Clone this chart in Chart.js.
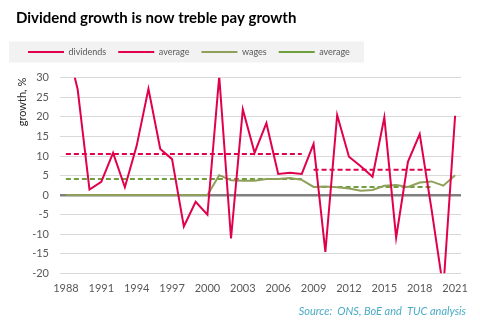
<!DOCTYPE html>
<html>
<head>
<meta charset="utf-8">
<script src="https://cdn.jsdelivr.net/npm/chart.js@4.4.1/dist/chart.umd.min.js"></script>
<style>
  html, body { margin: 0; padding: 0; background: #fff; }
  #grafica { display: block; }
</style>
</head>
<body>
<canvas id="grafica" width="480" height="329"></canvas>
<script>
// datos
const years = [1988, 1989, 1990, 1991, 1992, 1993, 1994, 1995, 1996, 1997, 1998, 1999, 2000,
  2001, 2002, 2003, 2004, 2005, 2006, 2007, 2008, 2009, 2010, 2011, 2012, 2013, 2014,
  2015, 2016, 2017, 2018, 2019, 2020, 2021];
const dividends = [39.5, 27, 1.4, 3.4, 10.8, 2.0, 12.6, 27.2, 11.8, 9.2, -8.0, -1.7, -5.0,
  30.4, -11.1, 21.9, 10.8, 18.4, 5.4, 5.7, 5.4, 13.1, -14.5, 20.5, 9.8, 7.4, 4.7,
  19.9, -10.9, 8.5, 15.6, -3.6, -24, 20.3];
const wages = [0, 0, 0, 0, 0, 0, 0, 0, 0, 0, 0, 0, 0,
  5.1, 3.8, 3.7, 3.7, 4.1, 4.1, 4.4, 3.9, 2.1, 2.2, 2.0, 1.7, 1.1, 1.3,
  2.4, 2.6, 2.1, 3.2, 3.5, 2.4, 5.1];
// medias por periodo: [primer año, último año, valor]
const dividendAverages = [[1988, 2008, 10.5], [2009, 2019, 6.5]];
const wageAverages = [[1988, 2008, 4.1], [2009, 2019, 2.1]];
const yTicks = { min: -20, max: 30, step: 5 };

const title = 'Dividend growth is now treble pay growth';
const sourceText = 'Source:  ONS, BoE and  TUC analysis';

const RED = '#e0004d';
const GREEN = '#8fa05a';
const GREEN_DASH = '#6f9e3c';

// convierte un periodo en serie con huecos
function tramo(p) {
    return years.map(y => (y >= p[0] && y <= p[1]) ? p[2] : null);
}

// fondo gris de la leyenda
const legendBg = {
    id: 'legendBg',
    beforeInit(chart) {
        const fitOrig = chart.legend.fit;
        chart.legend.fit = function () {
            fitOrig.bind(chart.legend)();
            this.height += 11.3;
        };
    },
    beforeDraw(chart) {
        const boxes = chart.legend.legendHitBoxes;
        if (!boxes || !boxes.length) return;
        const left = Math.min(...boxes.map(b => b.left)) - 19;
        const right = Math.max(...boxes.map(b => b.left + b.width)) + 14;
        const mid = boxes[0].top + boxes[0].height / 2;
        const ctx = chart.ctx;
        ctx.save();
        ctx.fillStyle = '#f2f2f2';
        ctx.fillRect(left, mid - 10.5, right - left, 21);
        ctx.restore();
    }
};

// nota de fuente abajo a la derecha
const sourceNote = {
    id: 'sourceNote',
    afterDraw(chart) {
        const ctx = chart.ctx;
        ctx.save();
        ctx.font = 'italic 11px Lato';
        ctx.fillStyle = '#4bacc6';
        ctx.textAlign = 'right';
        ctx.textBaseline = 'middle';
        ctx.fillText(sourceText, 466, 311);
        ctx.restore();
    }
};

const lineaBase = { fill: false, tension: 0, pointRadius: 0, pointHoverRadius: 0, borderWidth: 2 };

new Chart(document.getElementById('grafica'), {
    type: 'line',
    data: {
        labels: years,
        datasets: [
            { ...lineaBase, label: 'dividends', data: dividends, borderColor: RED },
            { ...lineaBase, label: 'average', data: tramo(dividendAverages[0]), borderColor: RED, borderDash: [5, 3] },
            { ...lineaBase, label: 'wages', data: wages, borderColor: GREEN },
            { ...lineaBase, label: 'average', data: tramo(wageAverages[0]), borderColor: GREEN_DASH, borderDash: [5, 3] },
            { ...lineaBase, label: 'average', data: tramo(dividendAverages[1]), borderColor: RED, borderDash: [5, 3] },
            { ...lineaBase, label: 'average', data: tramo(wageAverages[1]), borderColor: GREEN_DASH, borderDash: [5, 3] }
        ]
    },
    options: {
        responsive: false,
        animation: false,
        devicePixelRatio: 1,
        layout: { padding: { left: 16, right: 19, top: 0, bottom: 24.5 } },
        plugins: {
            title: {
                display: true,
                text: title,
                align: 'start',
                color: '#000',
                font: { family: 'Lato', size: 15, weight: 'bold' },
                padding: { top: 9.3, bottom: 8.2 }
            },
            legend: {
                position: 'top',
                align: 'start',
                labels: {
                    usePointStyle: true,
                    pointStyle: 'line',
                    pointStyleWidth: 36,
                    padding: 12,
                    color: '#595959',
                    font: { family: 'Lato', size: 9 },
                    filter: item => item.datasetIndex < 4
                }
            },
            tooltip: { enabled: false }
        },
        scales: {
            x: {
                offset: true,
                grid: { display: false, drawTicks: false },
                border: { display: false },
                ticks: {
                    autoSkip: false,
                    maxRotation: 0,
                    padding: 9,
                    color: '#595959',
                    font: { family: 'Lato', size: 11 },
                    callback: (v, i) => (i % 3 === 0 ? years[i] : '')
                }
            },
            y: {
                min: yTicks.min,
                max: yTicks.max,
                afterFit: s => { s.width = 44; },
                border: { display: false },
                grid: {
                    drawTicks: false,
                    color: c => (c.tick && c.tick.value === 0 ? '#7f7f7f' : '#d9d9d9'),
                    lineWidth: c => (c.tick && c.tick.value === 0 ? 2.5 : 1)
                },
                ticks: {
                    stepSize: yTicks.step,
                    padding: 11,
                    color: '#595959',
                    font: { family: 'Lato', size: 11 }
                },
                title: {
                    display: true,
                    text: 'growth, %',
                    align: 'end',
                    color: '#262626',
                    font: { family: 'Lato', size: 11 },
                    padding: { top: 0, bottom: 3 }
                }
            }
        }
    },
    plugins: [legendBg, sourceNote]
});
</script>
</body>
</html>
